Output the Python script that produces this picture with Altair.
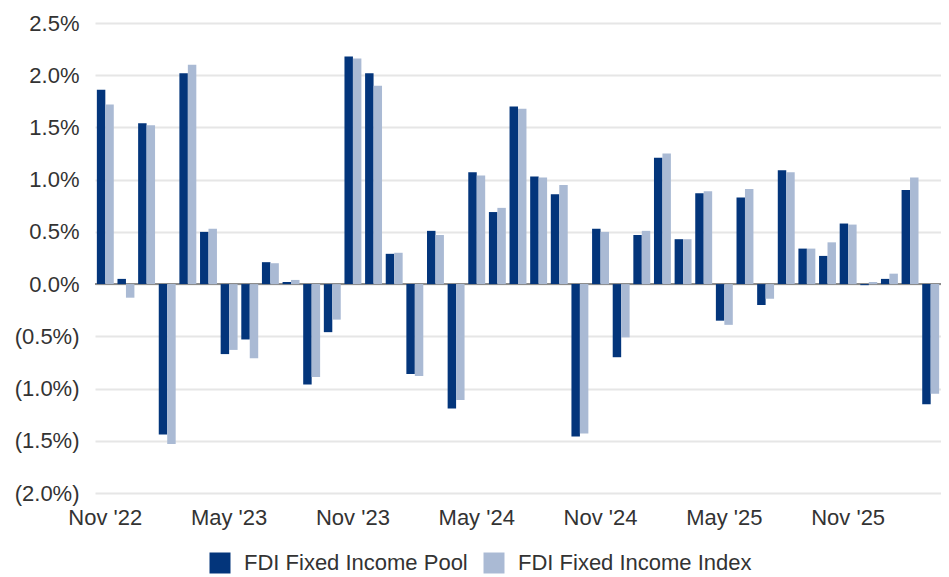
import altair as alt
import pandas as pd

months = [
    "Nov '22", "Dec '22", "Jan '23", "Feb '23", "Mar '23", "Apr '23", "May '23", "Jun '23",
    "Jul '23", "Aug '23", "Sep '23", "Oct '23", "Nov '23", "Dec '23", "Jan '24", "Feb '24",
    "Mar '24", "Apr '24", "May '24", "Jun '24", "Jul '24", "Aug '24", "Sep '24", "Oct '24",
    "Nov '24", "Dec '24", "Jan '25", "Feb '25", "Mar '25", "Apr '25", "May '25", "Jun '25",
    "Jul '25", "Aug '25", "Sep '25", "Oct '25", "Nov '25", "Dec '25", "Jan '26", "Feb '26",
    "Mar '26",
]
pool = [
    1.86, 0.05, 1.54, -1.44, 2.02, 0.50, -0.67, -0.53, 0.21, 0.02, -0.96, -0.46,
    2.18, 2.02, 0.29, -0.86, 0.51, -1.19, 1.07, 0.69, 1.70, 1.03, 0.86, -1.46,
    0.53, -0.70, 0.47, 1.21, 0.43, 0.87, -0.35, 0.83, -0.20, 1.09, 0.34, 0.27,
    0.58, -0.01, 0.05, 0.90, -1.15,
]
index = [
    1.72, -0.13, 1.52, -1.53, 2.10, 0.53, -0.63, -0.71, 0.20, 0.04, -0.89, -0.34,
    2.16, 1.90, 0.30, -0.88, 0.47, -1.11, 1.04, 0.73, 1.68, 1.02, 0.95, -1.43,
    0.50, -0.51, 0.51, 1.25, 0.43, 0.89, -0.39, 0.91, -0.14, 1.07, 0.34, 0.40,
    0.57, 0.02, 0.10, 1.02, -1.05,
]
series_names = ["FDI Fixed Income Pool", "FDI Fixed Income Index"]
colors = ["#03357B", "#AABAD4"]
y_ticks = [-2.0, -1.5, -1.0, -0.5, 0.0, 0.5, 1.0, 1.5, 2.0, 2.5]
x_labels = ["Nov '22", "May '23", "Nov '23", "May '24", "Nov '24", "May '25", "Nov '25"]

rows = []
for i, m in enumerate(months):
    rows.append({"month": m, "series": series_names[0], "value": pool[i]})
    rows.append({"month": m, "series": series_names[1], "value": index[i]})
df = pd.DataFrame(rows)

FONT = "Liberation Sans"
TEXT = "#333333"
FS = 22

label_expr = ("datum.value < 0 ? '(' + format(-datum.value, '.1f') + '%)' "
              ": format(datum.value, '.1f') + '%'")

y_enc = alt.Y(
    "value:Q",
    scale=alt.Scale(domain=[-2.0, 2.5], nice=False),
    axis=alt.Axis(values=y_ticks, labelExpr=label_expr, title=None, ticks=False,
                  domain=False, labelPadding=16, gridColor="#E6E6E6", gridWidth=2),
)

zero = alt.Chart(pd.DataFrame({"value": [0.0]})).mark_rule(
    color="#8C8C8C", strokeWidth=2
).encode(y=alt.Y("value:Q"))

bars = alt.Chart(df).mark_bar().encode(
    x=alt.X(
        "month:N",
        sort=months,
        scale=alt.Scale(paddingInner=0.18, paddingOuter=0.09),
        axis=alt.Axis(values=x_labels, title=None, labelAngle=0, domain=False,
                      ticks=False, labelPadding=14, grid=False),
    ),
    xOffset=alt.XOffset("series:N", sort=series_names,
                        scale=alt.Scale(paddingInner=0, paddingOuter=0)),
    y=y_enc,
    color=alt.Color(
        "series:N",
        sort=series_names,
        scale=alt.Scale(domain=series_names, range=colors),
        legend=alt.Legend(
            title=None, orient="none", direction="horizontal",
            legendX=114, legendY=529, symbolType="square", symbolSize=441,
            symbolStrokeWidth=0, labelFontSize=FS, labelFont=FONT,
            labelColor=TEXT, labelOffset=13, columnPadding=15, labelLimit=500,
        ),
    ),
)

chart = alt.layer(zero, bars).properties(
    width=846,
    height=470,
    padding={"left": 87, "top": 15, "right": 0, "bottom": 83},
    autosize=alt.AutoSizeParams(type="none"),
).configure_view(stroke=None).configure_axis(
    labelFont=FONT, labelFontSize=FS, labelColor=TEXT
)

chart.save("out.html", embed_options={"renderer": "svg", "actions": False})
